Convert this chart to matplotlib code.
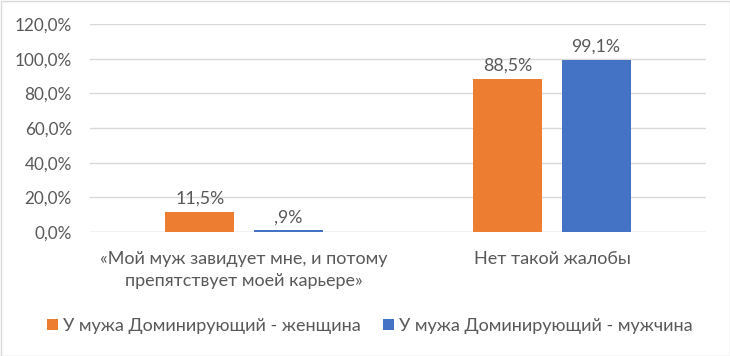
import matplotlib.pyplot as plt
import numpy as np

plt.rcParams['font.family'] = ['Lato', 'Noto Sans', 'DejaVu Sans']

categories = ['«Мой муж завидует мне, и потому\nпрепятствует моей карьере»', 'Нет такой жалобы']
women = [11.5, 88.5]
men = [0.9, 99.1]
women_labels = ['11,5%', '88,5%']
men_labels = [',9%', '99,1%']
series_names = ['У мужа Доминирующий - женщина', 'У мужа Доминирующий - мужчина']

orange = '#ED7D31'
blue = '#4472C4'
text_color = '#595959'

fig = plt.figure(figsize=(7.3, 3.56), dpi=100)
ax = fig.add_axes([90 / 730, 1 - 232 / 356, 616 / 730, 208 / 356])

x = np.arange(len(categories))
w = 0.224
off = (w + 0.062) / 2
b1 = ax.bar(x - off, women, w, color=orange, label=series_names[0], zorder=3)
b2 = ax.bar(x + off, men, w, color=blue, label=series_names[1], zorder=3)

for bars, labels in [(b1, women_labels), (b2, men_labels)]:
    for rect, lab in zip(bars, labels):
        ax.text(rect.get_x() + rect.get_width() / 2, rect.get_height() + 3, lab,
                ha='center', va='bottom', fontsize=12.8, color=text_color)

ax.set_xlim(-0.5, 1.5)
ax.set_ylim(0, 120)
yt = np.arange(0, 121, 20)
ax.set_yticks(yt)
ax.set_yticklabels([f'{v:.1f}%'.replace('.', ',') for v in yt], fontsize=12.3, color=text_color)
ax.set_xticks(x)
ax.set_xticklabels(categories, fontsize=13, color=text_color, linespacing=1.45)
ax.tick_params(axis='both', length=0)
ax.tick_params(axis='y', pad=13)
ax.tick_params(axis='x', pad=14)
ax.grid(axis='y', color='#D9D9D9', linewidth=1, zorder=0)
for s in ax.spines.values():
    s.set_visible(False)
ax.axhline(0, color='#D9D9D9', linewidth=1, zorder=1)

fig.legend(loc='center', bbox_to_anchor=(370 / 730, 1 - 326 / 356), ncol=2, frameon=False,
           fontsize=13, handlelength=0.6, handleheight=0.6, handletextpad=0.3,
           columnspacing=1.2, labelcolor=text_color)

# light chart-area border
fig.patches.append(plt.Rectangle((0.5 / 730, 0.5 / 356), 729 / 730, 355 / 356,
                                 transform=fig.transFigure, fill=False,
                                 edgecolor='#D9D9D9', linewidth=1))

fig.savefig('out.png', dpi=100)
